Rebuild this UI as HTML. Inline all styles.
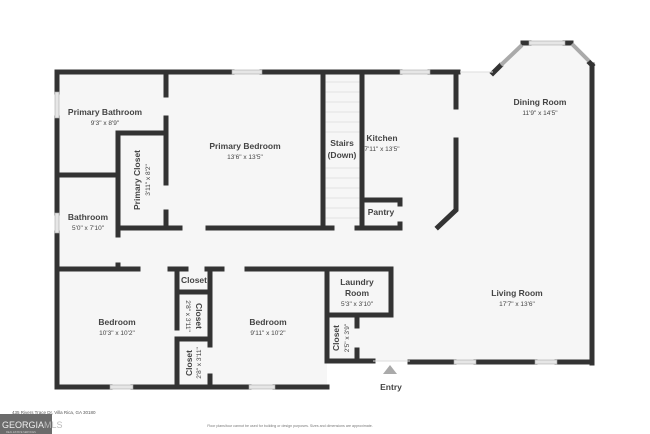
<!DOCTYPE html>
<html><head><meta charset="utf-8"><style>
html,body{margin:0;padding:0;background:#fff;}
svg{display:block;font-family:"Liberation Sans","DejaVu Sans",sans-serif;}
.t{font-size:8.5px;font-weight:bold;fill:#444;text-anchor:middle;}
.d{font-size:6.5px;fill:#444;text-anchor:middle;}
</style></head><body>
<svg width="650" height="434" viewBox="0 0 650 434">
<!-- floor fill -->
<path d="M57 72 H460 H493 L523 43 H571 L592 65 V363 H410 V361 H327 V387 H57 Z" fill="#f6f6f6"/>
<!-- stair treads -->
<g stroke="#ddd" stroke-width="0.8">
<line x1="324" y1="82" x2="360" y2="82"/><line x1="324" y1="92" x2="360" y2="92"/><line x1="324" y1="102" x2="360" y2="102"/><line x1="324" y1="112" x2="360" y2="112"/><line x1="324" y1="122" x2="360" y2="122"/><line x1="324" y1="132" x2="360" y2="132"/><line x1="324" y1="168" x2="360" y2="168"/><line x1="324" y1="178" x2="360" y2="178"/><line x1="324" y1="188" x2="360" y2="188"/><line x1="324" y1="198" x2="360" y2="198"/><line x1="324" y1="208" x2="360" y2="208"/><line x1="324" y1="218" x2="360" y2="218"/>
</g>
<g stroke="#333" stroke-width="5" fill="none" stroke-linecap="square">
<!-- outer top -->
<line x1="57" y1="72" x2="232" y2="72"/><line x1="262" y1="72" x2="400" y2="72"/><line x1="430" y1="72" x2="458" y2="72"/>
<line x1="493" y1="73" x2="500" y2="66"/><line x1="523" y1="43" x2="529" y2="43"/><line x1="565" y1="43" x2="571" y2="43"/><line x1="590" y1="63" x2="592" y2="65"/>
<line x1="592" y1="65" x2="592" y2="363"/>
<!-- left -->
<line x1="57" y1="72" x2="57" y2="92"/><line x1="57" y1="118" x2="57" y2="213"/><line x1="57" y1="233" x2="57" y2="387"/>
<!-- bottom -->
<line x1="57" y1="387" x2="110" y2="387"/><line x1="133" y1="387" x2="249" y2="387"/><line x1="275" y1="387" x2="327" y2="387"/>
<line x1="410" y1="362" x2="454" y2="362"/><line x1="476" y1="362" x2="535" y2="362"/><line x1="557" y1="362" x2="592" y2="362"/>
<line x1="327" y1="361" x2="373" y2="361"/>
<!-- primary bath/closet -->
<line x1="166" y1="72" x2="166" y2="95"/><line x1="166" y1="118" x2="166" y2="183"/><line x1="166" y1="212" x2="166" y2="228"/>
<line x1="118" y1="133" x2="166" y2="133"/><line x1="57" y1="175" x2="118" y2="175"/>
<line x1="118" y1="133" x2="118" y2="235"/><line x1="118" y1="265" x2="118" y2="268"/>
<line x1="118" y1="228" x2="180" y2="228"/><line x1="208" y1="228" x2="332" y2="228"/><line x1="357" y1="228" x2="400" y2="228"/>
<!-- stairs -->
<line x1="323" y1="72" x2="323" y2="228"/><line x1="362" y1="72" x2="362" y2="228"/>
<!-- pantry -->
<line x1="362" y1="200" x2="400" y2="200"/><line x1="400" y1="200" x2="400" y2="204"/><line x1="400" y1="224" x2="400" y2="228"/>
<!-- kitchen right -->
<line x1="456" y1="72" x2="456" y2="107"/><polyline points="456,140 456,210 438,227"/>
<!-- hallway bottom / bedroom tops -->
<line x1="57" y1="269" x2="138" y2="269"/><line x1="170" y1="269" x2="186" y2="269"/><line x1="207" y1="269" x2="222" y2="269"/><line x1="247" y1="269" x2="327" y2="269"/>
<!-- closets column -->
<line x1="177" y1="269" x2="177" y2="328"/><line x1="177" y1="339" x2="177" y2="387"/>
<line x1="177" y1="292" x2="210" y2="292"/><line x1="177" y1="339" x2="210" y2="339"/>
<line x1="210" y1="269" x2="210" y2="345"/><line x1="210" y1="376" x2="210" y2="387"/>
<!-- laundry -->
<line x1="327" y1="269" x2="327" y2="361"/><line x1="327" y1="269" x2="391" y2="269"/><line x1="391" y1="269" x2="391" y2="315"/><line x1="327" y1="315" x2="391" y2="315"/>
<line x1="357" y1="315" x2="357" y2="326"/><line x1="357" y1="350" x2="357" y2="361"/>
</g>
<!-- windows -->
<g fill="#e6e6e6" stroke="#aaa" stroke-width="0.6">
<rect x="232" y="70" width="30" height="4"/><rect x="400" y="70" width="30" height="4"/>
<rect x="529" y="41" width="36" height="4"/>
<rect x="55" y="92" width="4" height="26"/><rect x="55" y="213" width="4" height="20"/>
<rect x="110" y="385" width="23" height="4"/><rect x="249" y="385" width="26" height="4"/>
<rect x="454" y="360" width="22" height="4"/><rect x="535" y="360" width="22" height="4"/>
</g>
<g stroke="#aaa" stroke-width="4" fill="none"><line x1="501" y1="65" x2="522" y2="45"/><line x1="572" y1="44" x2="589" y2="61"/></g>
<g stroke="#ddd" stroke-width="1"><line x1="460" y1="72" x2="493" y2="72"/><line x1="373" y1="361" x2="410" y2="361"/></g>
<polygon points="383,374 390,365 397,374" fill="#aaa"/>
<!-- labels -->
<text class="t" x="105" y="115">Primary Bathroom</text><text class="d" x="105" y="125">9'3" x 8'9"</text>
<text class="t" x="245" y="149">Primary Bedroom</text><text class="d" x="245" y="159">13'6" x 13'5"</text>
<text class="t" transform="translate(140,180) rotate(-90)" x="0" y="0">Primary Closet</text>
<text class="d" transform="translate(150,180) rotate(-90)" x="0" y="0">3'11" x 8'2"</text>
<text class="t" x="342" y="146">Stairs</text><text class="t" x="342" y="158">(Down)</text>
<text class="t" x="382" y="141">Kitchen</text><text class="d" x="382" y="151">7'11" x 13'5"</text>
<text class="t" x="540" y="105">Dining Room</text><text class="d" x="540" y="115">11'9" x 14'5"</text>
<text class="t" x="381" y="215">Pantry</text>
<text class="t" x="88" y="220">Bathroom</text><text class="d" x="88" y="230">5'0" x 7'10"</text>
<text class="t" x="194" y="283">Closet</text>
<text class="t" transform="translate(196,316) rotate(90)">Closet</text>
<text class="d" transform="translate(186,316) rotate(90)">2'8" x 3'11"</text>
<text class="t" transform="translate(192,363) rotate(-90)">Closet</text>
<text class="d" transform="translate(201,363) rotate(-90)">2'8" x 3'11"</text>
<text class="t" x="117" y="325">Bedroom</text><text class="d" x="117" y="335">10'3" x 10'2"</text>
<text class="t" x="268" y="325">Bedroom</text><text class="d" x="268" y="335">9'11" x 10'2"</text>
<text class="t" x="357" y="285">Laundry</text><text class="t" x="357" y="296">Room</text><text class="d" x="357" y="306">5'3" x 3'10"</text>
<text class="t" transform="translate(339,338) rotate(-90)">Closet</text>
<text class="d" transform="translate(349,338) rotate(-90)">2'5" x 3'9"</text>
<text class="t" x="517" y="296">Living Room</text><text class="d" x="517" y="306">17'7" x 13'6"</text>
<text class="t" x="391" y="390">Entry</text>
<!-- footer -->
<text x="12" y="414" font-size="4.5" fill="#555">435 Rivers Trace Dr, Villa Rica, GA 30180</text>
<rect x="0" y="414" width="52" height="20" fill="#6b6b6b"/>
<text x="2" y="428" font-size="9" fill="#eee">GEORGIA<tspan fill="#bbb">MLS</tspan></text>
<text x="6" y="433" font-size="2.5" fill="#ccc">REAL ESTATE SERVICES</text>
<text x="290" y="427" font-size="3.6" fill="#777" text-anchor="middle">Floor plans/tour cannot be used for building or design purposes. Sizes and dimensions are approximate.</text>
</svg>
</body></html>
